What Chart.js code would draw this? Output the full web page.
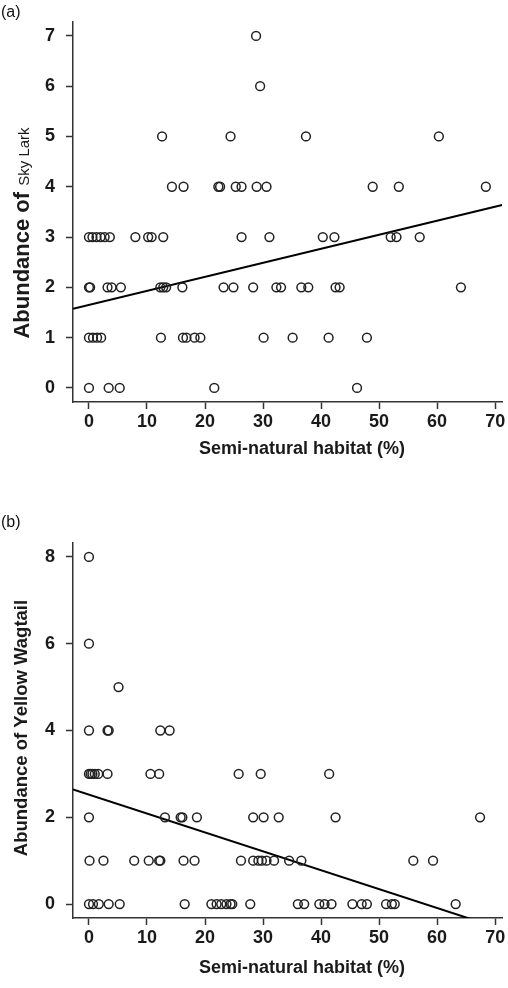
<!DOCTYPE html>
<html>
<head>
<meta charset="utf-8">
<script src="https://cdn.jsdelivr.net/npm/chart.js@4.4.0/dist/chart.umd.min.js"></script>
<style>
  body { margin: 0; background: #fff; width: 508px; height: 988px; position: relative; overflow: hidden;
         font-family: "Liberation Sans", Arial, sans-serif; }
  .panel { position: absolute; left: 0; width: 508px; height: 494px; }
  .tag { position: absolute; left: 1px; font-size: 16px; color: #111; }
</style>
</head>
<body>
<div class="panel" style="top:0"><canvas id="chartA"></canvas></div>
<div class="panel" style="top:494px"><canvas id="chartB"></canvas></div>
<div class="tag" style="top:3px">(a)</div>
<div class="tag" style="top:513px">(b)</div>

<script>
// panel (a): Sky Lark abundance vs % semi-natural habitat
var skyLarkHabitat = [
  28.8,
  29.5,
  12.6, 24.4, 37.4, 60.3,
  14.3, 16.3, 22.3, 22.6, 25.3, 26.3, 28.9, 30.6, 48.9, 53.4, 68.4,
  0, 0.6, 1.3, 2.0, 2.7, 3.6, 8.0, 10.2, 10.8, 12.8, 26.3, 31.1, 40.3, 42.3, 52.0, 53.0, 57.0,
  0, 0.2, 3.2, 3.9, 5.5, 12.3, 12.8, 13.3, 16.1, 23.2, 24.9, 28.3, 32.3, 33.1, 36.6, 37.8, 42.5, 43.2, 64.1,
  0, 0.7, 1.4, 2.1, 12.4, 16.2, 16.8, 18.2, 19.2, 30.1, 35.1, 41.3, 47.9,
  0, 3.4, 5.3, 21.6, 46.2
];
var skyLarkCount = [
  7,
  6,
  5, 5, 5, 5,
  4, 4, 4, 4, 4, 4, 4, 4, 4, 4, 4,
  3, 3, 3, 3, 3, 3, 3, 3, 3, 3, 3, 3, 3, 3, 3, 3, 3,
  2, 2, 2, 2, 2, 2, 2, 2, 2, 2, 2, 2, 2, 2, 2, 2, 2, 2, 2,
  1, 1, 1, 1, 1, 1, 1, 1, 1, 1, 1, 1, 1,
  0, 0, 0, 0, 0
];
var skyLarkFit = [1.65, 0.0279]; // intercept, slope

// panel (b): Yellow Wagtail
var wagtailHabitat = [
  0,
  0,
  5.1,
  0, 3.2, 3.4, 12.3, 13.9,
  0, 0.3, 0.6, 1.0, 1.6, 3.2, 10.6, 12.1, 25.8, 29.6, 41.4,
  0, 13.1, 15.8, 16.1, 18.6, 28.3, 30.1, 32.7, 42.5, 67.4,
  0.1, 2.5, 7.8, 10.3, 12.1, 12.3, 16.3, 18.2, 26.2, 28.3, 29.2, 29.8, 30.6, 31.9, 34.5, 36.6, 55.9, 59.3,
  0, 0.7, 1.7, 3.4, 5.3, 16.5, 21.1, 22.0, 22.8, 23.7, 24.4, 24.7, 27.8, 36.0, 37.1, 39.7, 40.6, 41.8,
  45.4, 47.0, 47.9, 51.2, 52.2, 52.7, 63.2
];
var wagtailCount = [
  8,
  6,
  5,
  4, 4, 4, 4, 4,
  3, 3, 3, 3, 3, 3, 3, 3, 3, 3, 3,
  2, 2, 2, 2, 2, 2, 2, 2, 2, 2,
  1, 1, 1, 1, 1, 1, 1, 1, 1, 1, 1, 1, 1, 1, 1, 1, 1, 1,
  0, 0, 0, 0, 0, 0, 0, 0, 0, 0, 0, 0, 0, 0, 0, 0, 0, 0,
  0, 0, 0, 0, 0, 0, 0
];
var wagtailFit = [2.52, -0.0435];

var xTicks = [0, 10, 20, 30, 40, 50, 60, 70];
var skyLarkTicks = [0, 1, 2, 3, 4, 5, 6, 7];
var wagtailTicks = [0, 2, 4, 6, 8];
var xRange = [-2.75, 71.2];

var ink = '#1a1a1a';
var fam = '"Liberation Sans", Arial, sans-serif';
var boldFont = { family: fam, size: 18, weight: 'bold' };

// axis titles drawn by hand: the y title mixes font styles, the x title sits right of centre
var axisTitles = {
  id: 'axisTitles',
  afterDraw: function(chart, args, opts) {
    var ctx = chart.ctx, area = chart.chartArea;
    ctx.save();
    ctx.fillStyle = ink;

    ctx.font = 'bold 18px ' + fam;
    ctx.textAlign = 'center';
    ctx.textBaseline = 'middle';
    ctx.fillText(opts.xText, opts.xCenter, opts.xY);

    ctx.textBaseline = 'alphabetic';
    ctx.textAlign = 'left';
    var total = 0;
    opts.yParts.forEach(function(p) { ctx.font = p.font; total += ctx.measureText(p.text).width; });
    ctx.translate(opts.yX, opts.yCenter);
    ctx.rotate(-Math.PI / 2);
    var pos = -total / 2;
    opts.yParts.forEach(function(p) {
      ctx.font = p.font;
      ctx.fillText(p.text, pos, 0);
      pos += ctx.measureText(p.text).width;
    });
    ctx.restore();
  }
};

function makePanel(id, xs, ys, fit, yTicks, yMax, geo, titles) {
  var pts = xs.map(function(x, i) { return { x: x, y: ys[i] }; });
  var yPad = yMax * 0.04;
  var line = [xRange[0], xRange[1]].map(function(x) { return { x: x, y: fit[0] + fit[1] * x }; });
  return new Chart(document.getElementById(id), {
    type: 'scatter',
    data: {
      datasets: [
        { data: pts, pointStyle: 'circle', pointRadius: 4.4, pointBorderWidth: 1.5,
          borderColor: '#222', backgroundColor: 'rgba(0,0,0,0)', pointHoverRadius: 4.4 },
        { type: 'line', data: line, borderColor: '#000', borderWidth: 2, pointRadius: 0, fill: false }
      ]
    },
    options: {
      responsive: true,
      maintainAspectRatio: false,
      animation: false,
      layout: { padding: { top: geo.top, right: 5, left: 0, bottom: 0 } },
      plugins: {
        legend: { display: false },
        tooltip: { enabled: false },
        axisTitles: titles
      },
      scales: {
        x: {
          type: 'linear',
          min: xRange[0],
          max: xRange[1],
          afterBuildTicks: function(s) { s.ticks = xTicks.map(function(v) { return { value: v }; }); },
          afterFit: function(s) { s.height = geo.xHeight; },
          grid: { drawOnChartArea: false, drawTicks: true, tickLength: 7, tickColor: '#333', tickWidth: 1.5 },
          border: { display: true, color: '#333', width: 1.5 },
          ticks: { color: ink, font: boldFont, padding: 2, maxRotation: 0 }
        },
        y: {
          type: 'linear',
          min: -yPad,
          max: yMax + yPad,
          afterBuildTicks: function(s) { s.ticks = yTicks.map(function(v) { return { value: v }; }); },
          afterFit: function(s) { s.width = 73; },
          grid: { drawOnChartArea: false, drawTicks: true, tickLength: 7, tickColor: '#333', tickWidth: 1.5 },
          border: { display: true, color: '#333', width: 1.5 },
          ticks: { color: ink, font: boldFont, padding: 11 }
        }
      }
    },
    plugins: [axisTitles]
  });
}

makePanel('chartA', skyLarkHabitat, skyLarkCount, skyLarkFit, skyLarkTicks, 7,
  { top: 20, xHeight: 92 },
  { xText: 'Semi-natural habitat (%)', xCenter: 302, xY: 449,
    yX: 29, yCenter: 233,
    yParts: [{ text: 'Abundance of ', font: 'bold 22px ' + fam }, { text: 'Sky Lark', font: '15px ' + fam }] });

makePanel('chartB', wagtailHabitat, wagtailCount, wagtailFit, wagtailTicks, 8,
  { top: 49, xHeight: 70 },
  { xText: 'Semi-natural habitat (%)', xCenter: 302, xY: 474,
    yX: 27, yCenter: 234,
    yParts: [{ text: 'Abundance of Yellow Wagtail', font: 'bold 18.5px ' + fam }] });
</script>
</body>
</html>
